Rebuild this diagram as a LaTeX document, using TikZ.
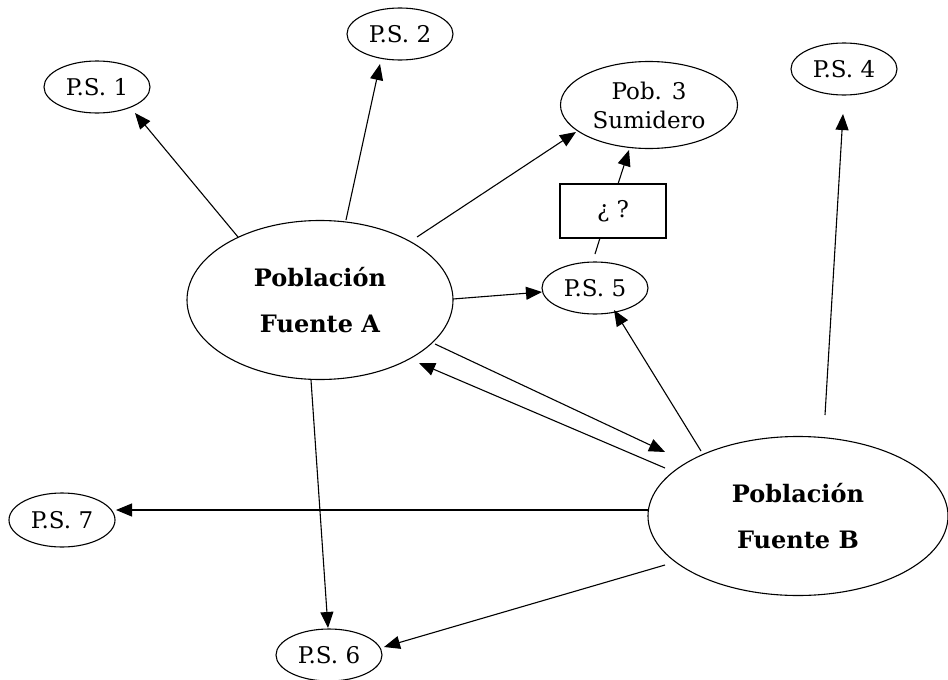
\documentclass[tikz,border=0pt]{standalone}
\usepackage{fontspec}
\setmainfont{DejaVu Serif}
\usetikzlibrary{shapes.geometric,arrows.meta}
\begin{document}
\begin{tikzpicture}[x=1pt,y=-1pt,
  ell/.style={draw,ellipse,inner sep=0pt,line width=1.1pt},
  small/.style={ell,minimum width=106pt,minimum height=52pt,font=\fontsize{23}{27}\selectfont},
  big/.style={ell,align=center,font=\fontsize{24}{46.5}\selectfont\bfseries},
  arr/.style={-{Triangle[length=16pt,width=13pt]},line width=1.1pt},
  plain/.style={line width=1.1pt}]
\useasboundingbox (0,0) rectangle (948,680);
% nodes
\node[small] (ps1) at (97,87) {P.S. 1};
\node[small] (ps2) at (400,34) {P.S. 2};
\node[ell,minimum width=177pt,minimum height=87pt,align=center,font=\fontsize{23}{29}\selectfont] (pob3) at (649,105) {Pob. 3\\Sumidero};
\node[small] (ps4) at (844,69) {P.S. 4};
\node[draw,line width=1.1pt,minimum width=106pt,minimum height=54pt,inner sep=0pt,font=\fontsize{23}{27}\selectfont] (box) at (613,211) {¿ ?};
\node[small] (ps5) at (595,288) {P.S. 5};
\node[big,minimum width=266pt,minimum height=159pt] (A) at (320,300) {Población\\Fuente A};
\node[big,minimum width=300pt,minimum height=159pt] (B) at (798,516) {Población\\Fuente B};
\node[small,minimum height=54pt] (ps7) at (62,520) {P.S. 7};
\node[small] (ps6) at (329,655) {P.S. 6};
% connector end points
\coordinate (a1) at (238,237); \coordinate (t1) at (135,113);
\coordinate (a2) at (346,220); \coordinate (t2) at (380,64);
\coordinate (a3) at (417,237); \coordinate (t3) at (576,132);
\coordinate (a4) at (453,299); \coordinate (t4) at (542,292);
\coordinate (a5) at (618,184); \coordinate (t5) at (629,150);
\coordinate (a6) at (595,254); \coordinate (t6) at (600,238);
\coordinate (a7) at (701,451); \coordinate (t7) at (614,310);
\coordinate (a8) at (825,415); \coordinate (t8) at (843,114);
\coordinate (a9) at (435,344); \coordinate (t9) at (665,452);
\coordinate (a10) at (665,468); \coordinate (t10) at (419,363);
\coordinate (a11) at (649,510); \coordinate (t11) at (116,510);
\coordinate (a12) at (311,380); \coordinate (t12) at (328,628);
\coordinate (a13) at (665,565); \coordinate (t13) at (384,647);
% connectors
\draw[arr] (a1) -- (t1);
\draw[arr] (a2) -- (t2);
\draw[arr] (a3) -- (t3);
\draw[arr] (a4) -- (t4);
\draw[arr] (a5) -- (t5);
\draw[plain] (a6) -- (t6);
\draw[arr] (a7) -- (t7);
\draw[arr] (a8) -- (t8);
\draw[arr] (a9) -- (t9);
\draw[arr] (a10) -- (t10);
\draw[arr] (a11) -- (t11);
\draw[arr] (a12) -- (t12);
\draw[arr] (a13) -- (t13);
\end{tikzpicture}
\end{document}
